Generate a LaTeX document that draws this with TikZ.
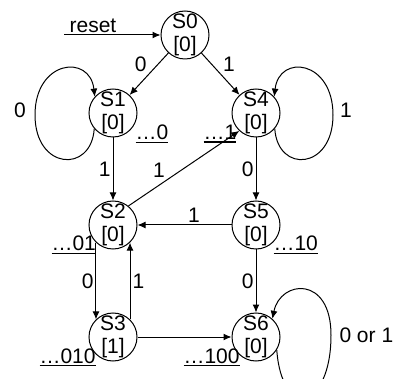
\documentclass[tikz,border=0pt]{standalone}
\usepackage{fontspec}
\setmainfont{Liberation Sans}
\usetikzlibrary{arrows.meta}

% underlined bit sequence
\newcommand{\seqtxt}[1]{\vtop{\hbox{#1}\kern1.3pt\hrule height 1.8pt}}

\begin{document}
\begin{tikzpicture}[
  font=\fontsize{21}{23}\selectfont,
  >={Latex[length=8pt,width=7pt]},
  x=1pt, y=-1pt,
  line width=1pt,
  state/.style={draw, circle, minimum size=48pt, inner sep=-3pt, align=center},
  lbl/.style={inner sep=2pt},
  seq/.style={anchor=base west, inner sep=0pt},
]
  \path[use as bounding box, clip] (0,0) rectangle (396,379);

  \node[state] (s0) at (185,35)  {S0\\{[0]}};
  \node[state] (s1) at (113,113) {S1\\{[0]}};
  \node[state] (s4) at (256,113) {S4\\{[0]}};
  \node[state] (s2) at (113,225) {S2\\{[0]}};
  \node[state] (s5) at (256,225) {S5\\{[0]}};
  \node[state] (s3) at (113,337) {S3\\{[1]}};
  \node[state] (s6) at (256,337) {S6\\{[0]}};

  % reset input
  \coordinate (rst) at (64,35);
  \draw[->] (rst) -- node[lbl, above, pos=0.3] {reset} (s0);

  \draw[->] (s0) -- node[lbl, above left] {0} (s1);
  \draw[->] (s0) -- node[lbl, above right] {1} (s4);
  \draw[->] (s1) -- node[lbl, left] {1} (s2);
  \draw[->] (s4) -- node[lbl, left] {0} (s5);
  \draw[->] (s2.51) -- node[lbl, above left, pos=0.35] {1} (s4.227);
  \draw[->] (s5) -- node[lbl, above, pos=0.4] {1} (s2);
  \draw[->] (s2.226) -- node[lbl, left] {0} (s3.134);
  \draw[->] (s3.46) -- node[lbl, right] {1} (s2.314);
  \draw[->] (s5) -- node[lbl, left] {0} (s6);
  \draw[->] (s3) -- (s6);

  % self loops
  \draw[->] (s1.220) .. controls +(-3,45) and +(0,55) .. (35,115)
            .. controls +(0,-55) and +(-5,-43) .. (s1.138);
  \node[lbl] (l1) at (20,110) {0};
  \draw[->] (s4.320) .. controls +(3,45) and +(0,55) .. (333,115)
            .. controls +(0,-55) and +(5,-43) .. (s4.42);
  \node[lbl] (l4) at (346,110) {1};
  \draw[->] (s6.328) .. controls +(5,70) and +(0,75) .. (331,335)
            .. controls +(0,-60) and +(8,-39) .. (s6.48);
  \node[lbl, anchor=west] (l6) at (337,335) {0 or 1};

  % bit sequences seen so far
  \node[seq] (q1) at (135,140) {\seqtxt{…0}};
  \node[seq] (q4) at (203,140) {\seqtxt{…1}};
  \node[seq] (q2) at (51,251)  {\seqtxt{…01}};
  \node[seq] (q5) at (273,251) {\seqtxt{…10}};
  \node[seq] (q3) at (39,363)  {\seqtxt{…010}};
  \node[seq] (q6) at (183,363) {\seqtxt{…100}};
\end{tikzpicture}
\end{document}
